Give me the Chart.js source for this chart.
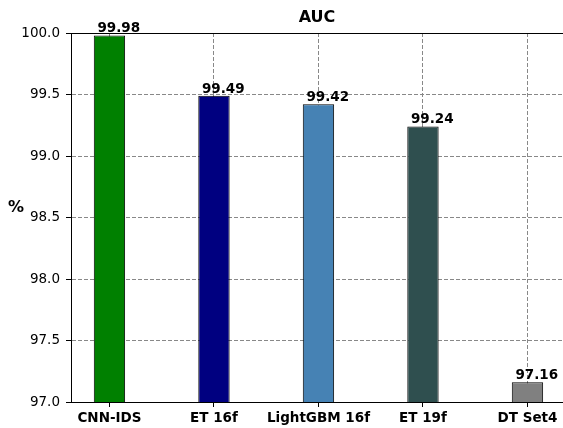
<!DOCTYPE html>
<html>
<head>
<meta charset="utf-8">
<script src="https://cdn.jsdelivr.net/npm/chart.js@4/dist/chart.umd.min.js"></script>
<style>
  html, body { margin: 0; padding: 0; background: #fff; overflow: hidden; }
  canvas { display: block; }
</style>
</head>
<body>
<canvas id="aucChart" width="563" height="428"></canvas>
<script>
const models = ['CNN-IDS', 'ET 16f', 'LightGBM 16f', 'ET 19f', 'DT Set4']
const auc = [99.98, 99.49, 99.42, 99.24, 97.16]
const barColors = ['#008000', '#000080', '#4682b4', '#2f4f4f', '#808080']
const yTicks = [97.0, 97.5, 98.0, 98.5, 99.0, 99.5, 100.0]

const FONT = "'DejaVu Sans', sans-serif"

// value labels, the "%" label and the top spine
const extras = {
    id: 'extras',
    afterDraw(chart) {
        const {ctx, chartArea, scales: {x, y}} = chart
        ctx.save()
        ctx.fillStyle = '#000'
        ctx.font = 'bold 13.5px ' + FONT
        ctx.textAlign = 'left'
        ctx.textBaseline = 'alphabetic'
        auc.forEach((v, i) => {
            ctx.fillText(v.toFixed(2), x.getPixelForValue(i - 0.115), y.getPixelForValue(v) - 3)
        })

        ctx.font = 'bold 16px ' + FONT
        ctx.textAlign = 'center'
        ctx.fillText('%', 16, 212)

        ctx.strokeStyle = '#000'
        ctx.lineWidth = 1
        ctx.beginPath()
        ctx.moveTo(chartArea.left, chartArea.top + 0.5)
        ctx.lineTo(chartArea.right, chartArea.top + 0.5)
        ctx.stroke()
        ctx.restore()
    }
}

new Chart(document.getElementById('aucChart'), {
    type: 'bar',
    data: {
        datasets: [{
            data: auc.map((v, i) => ({x: i, y: v})),
            backgroundColor: barColors,
            borderColor: '#000',
            borderWidth: 1,
            borderSkipped: false,
            barPercentage: 0.3,
            categoryPercentage: 1
        }]
    },
    options: {
        responsive: false,
        animation: false,
        devicePixelRatio: 1,
        layout: { padding: 0 },
        plugins: {
            legend: { display: false },
            tooltip: { enabled: false },
            title: {
                display: true,
                fullSize: false,
                text: 'AUC',
                color: '#000',
                font: { family: FONT, size: 16, weight: 'bold' },
                padding: { top: 8, bottom: 5.8 }
            }
        },
        scales: {
            x: {
                type: 'linear',
                offset: false,
                min: -0.368,
                max: 4.34,
                afterBuildTicks: s => { s.ticks = models.map((_, i) => ({value: i})) },
                afterFit: s => { s.height = 26 },
                ticks: {
                    callback: v => models[v],
                    color: '#000',
                    font: { family: FONT, size: 13.5, weight: 'bold' },
                    padding: 3,
                    maxRotation: 0,
                    autoSkip: false
                },
                grid: {
                    offset: false,
                    color: '#888',
                    lineWidth: 1,
                    tickLength: 5,
                    tickColor: '#000',
                    tickWidth: 1,
                    tickBorderDash: []
                },
                border: { color: '#000', width: 1, dash: [4, 2] }
            },
            y: {
                min: 97,
                max: 100,
                afterBuildTicks: s => { s.ticks = yTicks.map(v => ({value: v})) },
                afterFit: s => { s.width = 71 },
                ticks: {
                    callback: v => v.toFixed(1),
                    color: '#000',
                    font: { family: FONT, size: 13.5 },
                    padding: 6
                },
                grid: {
                    color: c => (c.tick && (c.tick.value === 97 || c.tick.value === 100)) ? 'rgba(0,0,0,0)' : '#888',
                    lineWidth: 1,
                    tickLength: 5,
                    tickColor: '#000',
                    tickWidth: 1,
                    tickBorderDash: []
                },
                border: { color: '#000', width: 1, dash: [4, 2] }
            }
        }
    },
    plugins: [extras]
})
</script>
</body>
</html>
